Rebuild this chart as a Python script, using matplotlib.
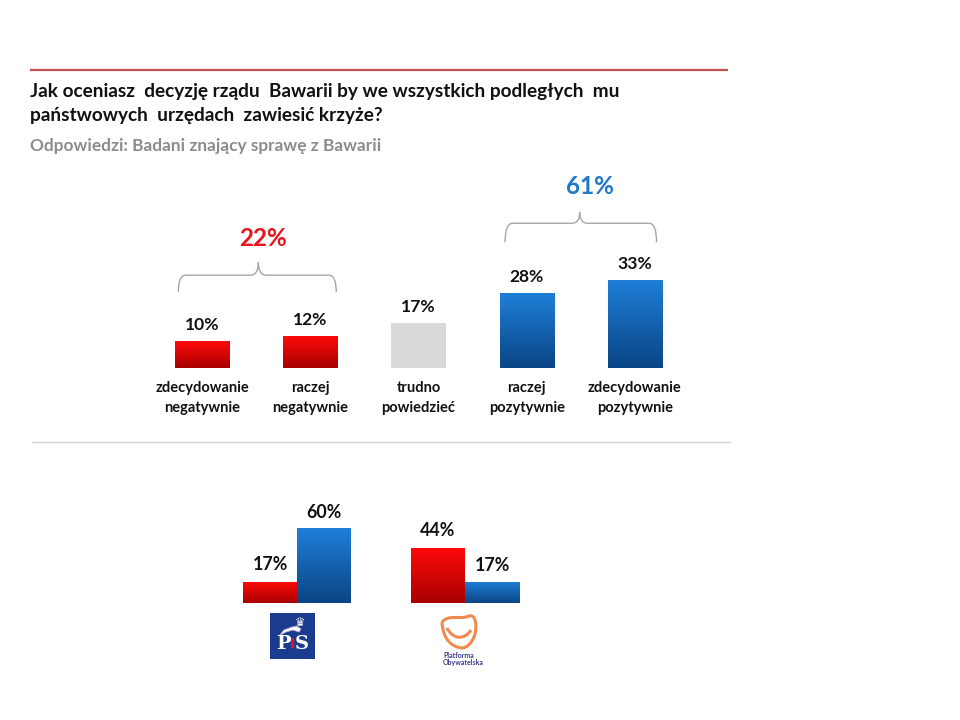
import matplotlib
matplotlib.use('Agg')
import matplotlib.pyplot as plt
import numpy as np
from matplotlib.path import Path
from matplotlib.patches import PathPatch, Rectangle, Polygon
from matplotlib.colors import LinearSegmentedColormap

# ---------------- data ----------------
title_lines = ["Jak oceniasz  decyzję rządu  Bawarii by we wszystkich podległych  mu",
               "państwowych  urzędach  zawiesić krzyże?"]
subtitle = "Odpowiedzi: Badani znający sprawę z Bawarii"
categories = ["zdecydowanie\nnegatywnie", "raczej\nnegatywnie", "trudno\npowiedzieć",
              "raczej\npozytywnie", "zdecydowanie\npozytywnie"]
values = [10, 12, 17, 28, 33]
kinds = ["neg", "neg", "dk", "pos", "pos"]
neg_total = 22
pos_total = 61
parties = ["PiS", "PO"]
party_neg = [17, 44]
party_pos = [60, 17]

W, H = 960, 720
FONT = ['Lato', 'DejaVu Sans']
plt.rcParams['font.family'] = FONT

RED_TOP, RED_BOT = '#ff0a0a', '#a80000'
BLUE_TOP, BLUE_BOT = '#1f7fd8', '#0a4585'
GRAY = '#d9d9d9'

fig = plt.figure(figsize=(W / 100, H / 100), dpi=100)
fig.patch.set_facecolor('white')

# overlay axes in pixel coordinates for decorations
deco = fig.add_axes([0, 0, 1, 1])
deco.set_xlim(0, W)
deco.set_ylim(H, 0)
deco.axis('off')
deco.set_zorder(0)

deco.plot([30, 728], [70, 70], color='#c0504d', lw=1.6, solid_capstyle='butt')
deco.plot([32, 730], [442, 442], color='#d4d4d4', lw=1.0)
deco.text(30, 91, title_lines[0], fontsize=13.7, fontweight='bold', color='#111111', va='center', ha='left')
deco.text(30, 116, title_lines[1], fontsize=13.7, fontweight='bold', color='#111111', va='center', ha='left')
deco.text(30, 146, subtitle, fontsize=12.4, fontweight='bold', color='#8c8c8c', va='center', ha='left')


def grad_fill(ax, rect, c_top, c_bot):
    x, y = rect.get_xy()
    w, h = rect.get_width(), rect.get_height()
    cmap = LinearSegmentedColormap.from_list('g', [c_bot, c_top])
    grad = np.linspace(0, 1, 128).reshape(-1, 1)
    im = ax.imshow(grad, extent=[x, x + w, y, y + h], origin='lower', cmap=cmap,
                   aspect='auto', zorder=2, interpolation='bilinear')
    im.set_clip_path(rect)
    rect.set_facecolor('none')


# ---------------- top chart ----------------
ax = fig.add_axes([148 / W, 1 - 368 / H, 541 / W, 198 / H])
ax.patch.set_alpha(0)
x = np.arange(len(values))
bars = ax.bar(x, values, width=0.5, edgecolor='none', zorder=2)
for b, k in zip(bars, kinds):
    if k == 'neg':
        grad_fill(ax, b, RED_TOP, RED_BOT)
    elif k == 'pos':
        grad_fill(ax, b, BLUE_TOP, BLUE_BOT)
    else:
        b.set_facecolor(GRAY)
ax.set_xlim(-0.5, len(values) - 0.5)
ax.set_ylim(0, 74)
ax.axis('off')

for xi, v, c in zip(x, values, categories):
    ax.annotate(f"{v}%", (xi, v), xytext=(0, 16), textcoords='offset pixels',
                ha='center', va='center', fontsize=12.6, fontweight='bold', color='#111111')
    l1, l2 = c.split('\n')
    ax.annotate(l1, (xi, 0), xytext=(0, -20), textcoords='offset pixels',
                ha='center', va='center', fontsize=10.5, fontweight='bold', color='#111111')
    ax.annotate(l2, (xi, 0), xytext=(0, -40), textcoords='offset pixels',
                ha='center', va='center', fontsize=10.5, fontweight='bold', color='#111111')


def brace(ax, x0, x1, xm, y_tip, y_h, y_c, dx, color='#a6a6a6'):
    verts = [(x0, y_tip), (x0, y_h), (x0 + dx, y_h),
             (xm - dx, y_h), (xm, y_h), (xm, y_c),
             (xm, y_h), (xm + dx, y_h),
             (x1 - dx, y_h), (x1, y_h), (x1, y_tip)]
    codes = [Path.MOVETO, Path.CURVE3, Path.CURVE3,
             Path.LINETO, Path.CURVE3, Path.CURVE3,
             Path.CURVE3, Path.CURVE3,
             Path.LINETO, Path.CURVE3, Path.CURVE3]
    ax.add_patch(PathPatch(Path(verts, codes), fill=False, edgecolor=color, lw=1.0,
                           clip_on=False, zorder=3))


# negative brace over bars 0-1, positive over 3-4
brace(ax, x[0] - 0.22, x[1] + 0.24, (x[0] + x[1]) / 2 + 0.02, 28.4, 34.7, 39.6, 0.07)
brace(ax, x[3] - 0.2, x[4] + 0.2, (x[3] + x[4]) / 2 - 0.01, 47.0, 54.1, 58.2, 0.07)
ax.text((x[0] + x[1]) / 2 + 0.06, 48.5, f"{neg_total}%", ha='center', va='center',
        fontsize=17.5, fontweight='bold', color='#e8141b', clip_on=False)
ax.text((x[3] + x[4]) / 2 + 0.08, 67.9, f"{pos_total}%", ha='center', va='center',
        fontsize=17.5, fontweight='bold', color='#1f78c8', clip_on=False)

# ---------------- bottom chart ----------------
bx = fig.add_axes([213 / W, 1 - 603 / H, 336 / W, 100 / H])
bx.patch.set_alpha(0)
g = np.arange(len(parties))
bw = 54 / 168
nb = bx.bar(g - bw / 2, party_neg, width=bw, edgecolor='none', zorder=2)
pb = bx.bar(g + bw / 2, party_pos, width=bw, edgecolor='none', zorder=2)
for b in nb:
    grad_fill(bx, b, RED_TOP, RED_BOT)
for b in pb:
    grad_fill(bx, b, BLUE_TOP, BLUE_BOT)
bx.set_xlim(-0.5, 1.5)
bx.set_ylim(0, 80)
bx.axis('off')
for gi, vn, vp in zip(g, party_neg, party_pos):
    bx.annotate(f"{vn}%", (gi - bw / 2, vn), xytext=(0, 17), textcoords='offset pixels',
                ha='center', va='center', fontsize=12.8, fontweight='bold', color='#111111')
    bx.annotate(f"{vp}%", (gi + bw / 2, vp), xytext=(0, 16), textcoords='offset pixels',
                ha='center', va='center', fontsize=12.8, fontweight='bold', color='#111111')

# ---------------- logos (approximations) ----------------
# PiS
deco.add_patch(Rectangle((270, 613), 45, 46, facecolor='#1b3b8f', edgecolor='none', zorder=1))
# eagle wing / head (white swoosh)
deco.add_patch(Polygon([(279, 636), (284, 630), (292, 627), (297, 626), (301, 629),
                        (299, 632), (293, 630), (286, 632)], closed=True,
                       facecolor='white', edgecolor='#b9a6d6', lw=0.6, zorder=2))
deco.text(300, 622, "♛", ha='center', va='center', fontsize=8.5, color='white',
          family='DejaVu Sans', zorder=3)
deco.text(291, 644, "P", ha='right', va='center', fontsize=14, fontweight='bold',
          color='white', family='DejaVu Serif', zorder=3)
deco.add_patch(Rectangle((291.2, 638), 3.2, 10, facecolor='#e8141b', edgecolor='none', zorder=3))
deco.text(295, 644, "S", ha='left', va='center', fontsize=14, fontweight='bold',
          color='white', family='DejaVu Serif', zorder=3)

# Platforma Obywatelska
po_verts = [(442, 622), (449, 614), (460, 620), (469, 616),
            (476, 614), (477, 626), (475, 634),
            (472, 644), (466, 648), (462, 648),
            (452, 647), (443, 640), (442, 622)]
po_codes = [Path.MOVETO, Path.CURVE4, Path.CURVE4, Path.CURVE4,
            Path.CURVE4, Path.CURVE4, Path.CURVE4,
            Path.CURVE4, Path.CURVE4, Path.CURVE4,
            Path.CURVE4, Path.CURVE4, Path.CURVE4]
deco.add_patch(PathPatch(Path(po_verts, po_codes), fill=False, edgecolor='#f28a4f', lw=2.2))
smile = [(447, 628), (453, 640), (465, 640), (471, 630)]
deco.add_patch(PathPatch(Path(smile, [Path.MOVETO, Path.CURVE4, Path.CURVE4, Path.CURVE4]),
                         fill=False, edgecolor='#f28a4f', lw=2.2))
deco.text(443, 656, "Platforma", ha='left', va='center', fontsize=5.0, fontweight='bold', color='#3b3b8c')
deco.text(443, 662, "Obywatelska", ha='left', va='center', fontsize=5.0, fontweight='bold', color='#3b3b8c')

fig.savefig('out.png', dpi=100, facecolor='white')
